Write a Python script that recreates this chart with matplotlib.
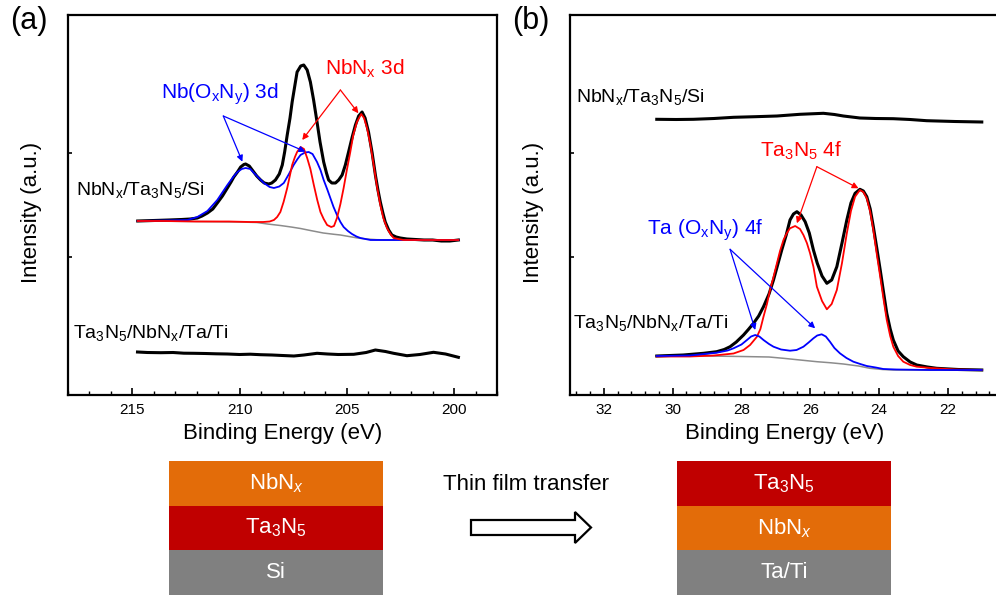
import matplotlib
matplotlib.use("Agg")
import matplotlib.pyplot as plt
import matplotlib.patches as mpatches
from matplotlib.ticker import MultipleLocator

plt.rcParams['font.family'] = ['Liberation Sans', 'DejaVu Sans']
plt.rcParams['mathtext.fontset'] = 'custom'
plt.rcParams['mathtext.rm'] = 'Liberation Sans'
plt.rcParams['mathtext.it'] = 'Liberation Sans:italic'

# ---- panel (a): Nb 3d ----
a_black_E = [214.75, 214.0, 213.3, 212.7, 212.3, 211.97, 211.75, 211.5, 211.25, 211.04, 210.8, 210.57,
             210.4, 210.27, 210.1, 209.95, 209.8, 209.72, 209.55, 209.41, 209.2, 209.02, 208.85, 208.64,
             208.5, 208.33, 208.15, 208.01, 207.9, 207.78, 207.65, 207.55, 207.42, 207.32, 207.15, 207.01,
             206.85, 206.7, 206.55, 206.39, 206.25, 206.08, 205.95, 205.85, 205.7, 205.53, 205.38, 205.22,
             205.07, 204.92, 204.75, 204.6, 204.45, 204.29, 204.15, 203.99, 203.82, 203.67, 203.55, 203.44,
             203.32, 203.21, 203.05, 202.9, 202.7, 202.51, 202.2, 201.8, 201.4, 201.0, 200.6, 200.2, 199.8]
a_black_I = [174, 174.5, 175, 175.5, 176, 177, 179, 182, 186, 192, 199, 207,
             213, 218, 223, 228, 230.5, 231, 229, 225, 219, 215, 212, 211,
             212, 215, 221, 230, 243, 260, 277, 293, 310, 323, 329, 330,
             325, 313, 295, 273, 253, 233, 222, 215, 212, 212, 215, 220,
             230, 243, 258, 270, 279, 283, 277, 263, 242, 220, 205, 193,
             182, 173, 165, 160, 158, 157, 156, 155.5, 155, 155, 154, 154, 155]

a_red_E = [214.75, 213.5, 212.0, 210.5, 209.5, 208.9, 208.6, 208.4, 208.25, 208.1, 207.95, 207.78, 207.65,
           207.55, 207.42, 207.32, 207.16, 207.0, 206.85, 206.7, 206.54, 206.38, 206.23, 206.08, 205.92,
           205.73, 205.6, 205.46, 205.3, 205.15, 205.0, 204.84, 204.7, 204.53, 204.33, 204.2, 204.06, 203.9,
           203.75, 203.6, 203.44, 203.3, 203.13, 202.97, 202.82, 202.6, 202.36, 201.5, 200.5, 199.8]
a_red_I = [174, 174, 173.5, 173.5, 173, 173, 173.5, 175, 178, 183, 193, 207, 220,
           230, 238, 243, 248, 246, 237, 226, 210, 195, 183, 176, 170,
           168, 169, 177, 191, 207, 225, 243, 260, 273, 281, 277, 267, 250,
           230, 209, 190, 177, 167, 161, 157, 156, 155, 155, 155, 155]

a_blue_E = [214.75, 213.5, 212.43, 211.97, 211.5, 211.04, 210.57, 210.3, 210.1, 209.9, 209.72, 209.5, 209.33,
            209.1, 208.87, 208.6, 208.4, 208.15, 207.94, 207.7, 207.48, 207.3, 207.16, 206.95, 206.78, 206.6,
            206.39, 206.23, 206.08, 205.92, 205.77, 205.62, 205.46, 205.3, 205.15, 204.95, 204.76, 204.55,
            204.37, 203.9, 203.0, 201.5, 199.8]
a_blue_I = [174, 174.5, 175, 178, 184, 195, 210, 218, 223, 226, 227, 226, 222,
            217, 212, 208, 207, 208.5, 212, 221, 230, 236, 240, 242.5, 243, 241,
            233, 225, 215, 206, 197, 188, 180, 173, 168, 164, 161, 158.5,
            157, 155, 155, 155, 155]

a_bg_E = [214.75, 212.0, 210.0, 209.2, 208.7, 208.1, 207.6, 207.16, 206.7, 206.1, 205.6, 205.3, 204.9,
          204.5, 204.06, 203.6, 203.0, 201.0, 199.8]
a_bg_I = [174, 173.5, 173, 172.5, 171, 169.5, 168, 166.5, 164.5, 162, 160.7, 160, 158.5,
          157, 156, 155.3, 155, 155, 155]

a_low_E = [214.76, 214.3, 213.67, 213.1, 212.6, 212.13, 211.6, 211.1, 210.57, 210.0, 209.5, 209.02, 208.5,
           208.0, 207.47, 207.0, 206.39, 205.9, 205.4, 204.68, 204.1, 203.67, 203.2, 202.82, 202.2, 201.6,
           200.96, 200.4, 199.8]
a_low_I = [43, 42.5, 42.3, 42.5, 41.8, 41.7, 41.5, 41.2, 41, 40.5, 40.8, 40.3, 40,
           39.5, 39, 40, 41.7, 41, 40.5, 40.7, 42.5, 45, 43.5, 41.7, 39.3, 40.5,
           42.7, 41, 37.7]

# ---- panel (b): Ta 4f ----
b_top_E = [30.46, 29.9, 29.4, 28.8, 28.23, 27.6, 26.97, 26.3, 25.62, 25.3, 25.04, 24.56, 24.1, 23.59,
           23.1, 22.62, 21.8, 21.02]
b_top_I = [275.7, 275.5, 275.7, 276.5, 277.7, 278.3, 279, 280.7, 281.7, 280.5, 279, 277, 276.5, 276.3,
           275.5, 274.3, 273.5, 273]

b_black_E = [30.46, 29.69, 29.1, 28.72, 28.5, 28.33, 28.15, 27.94, 27.8, 27.65, 27.5, 27.36, 27.2, 27.07,
             26.95, 26.83, 26.7, 26.59, 26.49, 26.39, 26.27, 26.15, 26.03, 25.91, 25.8, 25.66, 25.52,
             25.38, 25.23, 25.08, 24.94, 24.82, 24.7, 24.56, 24.46, 24.36, 24.26, 24.17, 24.07, 23.97,
             23.87, 23.78, 23.68, 23.59, 23.45, 23.3, 23.1, 22.91, 22.6, 22.33, 21.7, 21.02]
b_black_I = [39, 40, 41.7, 43.3, 45.5, 48.3, 53, 60, 65.5, 71.7, 79, 88.3, 101, 115,
             130, 145, 160, 175, 181, 183.3, 180, 173.3, 162, 145, 132, 119, 111.7,
             115, 128.3, 152, 175, 192, 201.7, 205.7, 204, 198.3, 186, 168.3, 147, 125,
             102, 81.7, 66, 55, 44, 38.3, 33, 30, 28, 26.7, 25.5, 25]

b_red_E = [30.46, 29.5, 28.8, 28.23, 27.94, 27.75, 27.55, 27.45, 27.36, 27.26, 27.17, 27.07, 26.97, 26.88,
           26.78, 26.68, 26.59, 26.44, 26.3, 26.2, 26.1, 26.01, 25.91, 25.81, 25.66, 25.52, 25.38, 25.23,
           25.08, 24.94, 24.82, 24.7, 24.56, 24.46, 24.36, 24.26, 24.17, 24.07, 23.97, 23.87, 23.78,
           23.68, 23.59, 23.45, 23.3, 23.1, 22.91, 22.5, 21.8, 21.02]
b_red_I = [38.5, 38.5, 39.5, 41.5, 45, 50, 58.3, 66, 78.3, 91, 105, 118, 131.7, 144,
           155, 162, 166.7, 169, 166, 160, 152, 142, 128.3, 108.3, 94, 85.7, 91, 105,
           132, 161.7, 184, 198.3, 205, 203, 196.7, 183, 165, 141, 118.3, 95, 75,
           59, 48.3, 39, 33.3, 30, 28.3, 27, 25.5, 25]

b_blue_E = [30.46, 29.5, 28.72, 28.4, 28.23, 28.0, 27.84, 27.72, 27.6, 27.48, 27.36, 27.2, 27.07, 26.85,
            26.59, 26.4, 26.2, 26.05, 25.91, 25.8, 25.67, 25.55, 25.43, 25.3, 25.14, 24.95, 24.75, 24.55,
            24.36, 24.1, 23.88, 23.5, 22.5, 21.02]
b_blue_I = [39, 39.5, 42.3, 44.5, 46.7, 50.5, 55, 58.5, 60, 58.5, 55, 51, 48.3, 45.5,
            44.3, 45, 48.3, 52.5, 56.7, 59.5, 60.7, 58.5, 53.3, 47, 41.7, 37, 33.3, 31,
            29, 27.5, 26, 25.5, 25, 25]

b_bg_E = [30.46, 29.0, 28.0, 27.2, 26.78, 26.3, 25.81, 25.4, 25.04, 24.6, 24.27, 23.9, 23.59, 22.5, 21.02]
b_bg_I = [39, 39, 38.5, 38, 36.7, 35, 33.3, 32.2, 31, 29, 26.7, 25.5, 25, 25, 25]

# ---- layer stacks ----
stack_before = ["NbN$_x$", "Ta$_\\mathregular{3}$N$_\\mathregular{5}$", "Si"]
stack_after = ["Ta$_\\mathregular{3}$N$_\\mathregular{5}$", "NbN$_x$", "Ta/Ti"]
layer_colors = {"NbN$_x$": "#E36C09", "Ta$_\\mathregular{3}$N$_\\mathregular{5}$": "#C00000",
                "Si": "#808080", "Ta/Ti": "#808080"}

BLACK, RED, BLUE, GRAY = "black", "#FF0000", "#0000FF", "#8C8C8C"
S_NBTASI = "NbN$_\\mathregular{x}$/Ta$_\\mathregular{3}$N$_\\mathregular{5}$/Si"
S_TANBTATI = "Ta$_\\mathregular{3}$N$_\\mathregular{5}$/NbN$_\\mathregular{x}$/Ta/Ti"

fig = plt.figure(figsize=(9.96, 5.96), dpi=100)
W, H = 996, 596
ax_a = fig.add_axes([68 / W, 1 - 395 / H, 429 / W, 380 / H])
ax_b = fig.add_axes([570 / W, 1 - 395 / H, 429 / W, 380 / H])


def style(ax, xlim, major, minor):
    ax.set_xlim(*xlim)
    ax.set_ylim(0, 380)
    ax.xaxis.set_major_locator(MultipleLocator(major))
    ax.xaxis.set_minor_locator(MultipleLocator(minor))
    ax.set_yticks([138, 242])
    ax.set_yticklabels([])
    ax.tick_params(axis='both', which='major', direction='in', length=5, width=1.2,
                   labelsize=11, pad=6)
    ax.tick_params(axis='both', which='minor', direction='in', length=3, width=1.0)
    ax.tick_params(axis='y', length=3)
    for s in ax.spines.values():
        s.set_linewidth(1.6)
    ax.set_xlabel("Binding Energy (eV)", fontsize=16, labelpad=4)


# panel a
ax_a.plot(a_bg_E, a_bg_I, color=GRAY, lw=1.1)
ax_a.plot(a_black_E, a_black_I, color=BLACK, lw=2.2)
ax_a.plot(a_blue_E, a_blue_I, color=BLUE, lw=1.3)
ax_a.plot(a_red_E, a_red_I, color=RED, lw=1.3)
ax_a.plot(a_low_E, a_low_I, color=BLACK, lw=2.2)
style(ax_a, (218, 198), 5, 1)

ax_a.text(217.63, 200, S_NBTASI, fontsize=14, va='baseline')
ax_a.text(217.77, 57, S_TANBTATI, fontsize=14, va='baseline')
ax_a.text(213.67, 296, "Nb(O$_\\mathregular{x}$N$_\\mathregular{y}$) 3d", fontsize=15, color=BLUE, va='baseline')
ax_a.text(206.0, 320, "NbN$_\\mathregular{x}$ 3d", fontsize=15, color=RED, va='baseline')
arr_blue = dict(arrowstyle='-|>', color=BLUE, lw=0.9, mutation_scale=9, shrinkA=0, shrinkB=0)
arr_red = dict(arrowstyle='-|>', color=RED, lw=0.9, mutation_scale=9, shrinkA=0, shrinkB=0)
for end in [(209.87, 233.3), (206.93, 243.3)]:
    ax_a.annotate('', xy=end, xytext=(210.76, 279), arrowprops=arr_blue)
for end in [(207.08, 255), (204.46, 281.7)]:
    ax_a.annotate('', xy=end, xytext=(205.3, 305), arrowprops=arr_red)

# panel b
ax_b.plot(b_bg_E, b_bg_I, color=GRAY, lw=1.1)
ax_b.plot(b_black_E, b_black_I, color=BLACK, lw=2.2)
ax_b.plot(b_red_E, b_red_I, color=RED, lw=1.3)
ax_b.plot(b_blue_E, b_blue_I, color=BLUE, lw=1.3)
ax_b.plot(b_top_E, b_top_I, color=BLACK, lw=2.2)
style(ax_b, (32.98, 20.52), 2, 0.4)

ax_b.text(32.8, 293.3, S_NBTASI, fontsize=14, va='baseline')
ax_b.text(32.89, 67, S_TANBTATI, fontsize=14, va='baseline')
ax_b.text(27.46, 238.3, "Ta$_\\mathregular{3}$N$_\\mathregular{5}$ 4f", fontsize=15, color=RED, va='baseline')
ax_b.text(30.75, 160, "Ta (O$_\\mathregular{x}$N$_\\mathregular{y}$) 4f", fontsize=15, color=BLUE, va='baseline')
for end in [(24.6, 206.7), (26.39, 171.7)]:
    ax_b.annotate('', xy=end, xytext=(25.81, 228.3), arrowprops=arr_red)
for end in [(27.6, 65), (25.86, 66.7)]:
    ax_b.annotate('', xy=end, xytext=(28.33, 145.7), arrowprops=arr_blue)

# panel letters and y labels
fig.text(10 / W, 1 - 6 / H, "(a)", fontsize=22, va='top', ha='left')
fig.text(512 / W, 1 - 6 / H, "(b)", fontsize=22, va='top', ha='left')
fig.text(31 / W, 1 - 212 / H, "Intensity (a.u.)", fontsize=16, rotation=90, ha='center', va='center')
fig.text(533 / W, 1 - 212 / H, "Intensity (a.u.)", fontsize=16, rotation=90, ha='center', va='center')

# schematic of the layer stacks, in pixel units
ov = fig.add_axes([0, 0, 1, 1])
ov.set_xlim(0, W)
ov.set_ylim(H, 0)
ov.axis('off')
row_h = 44.5
for x0, stack in [(169, stack_before), (677, stack_after)]:
    for i, name in enumerate(stack):
        y0 = 461 + i * row_h
        ov.add_patch(mpatches.Rectangle((x0, y0), 214, row_h, facecolor=layer_colors[name],
                                        edgecolor='none'))
        ov.text(x0 + 107, y0 + row_h / 2, name, color='white', fontsize=16, ha='center', va='center')

ov.text(526, 485, "Thin film transfer", fontsize=16, ha='center', va='center')
ov.add_patch(mpatches.FancyArrow(471, 527.5, 120, 0, width=15, head_width=31, head_length=16,
                                 length_includes_head=True, facecolor='white', edgecolor='black', lw=1.6))

fig.savefig("out.png", dpi=100)
